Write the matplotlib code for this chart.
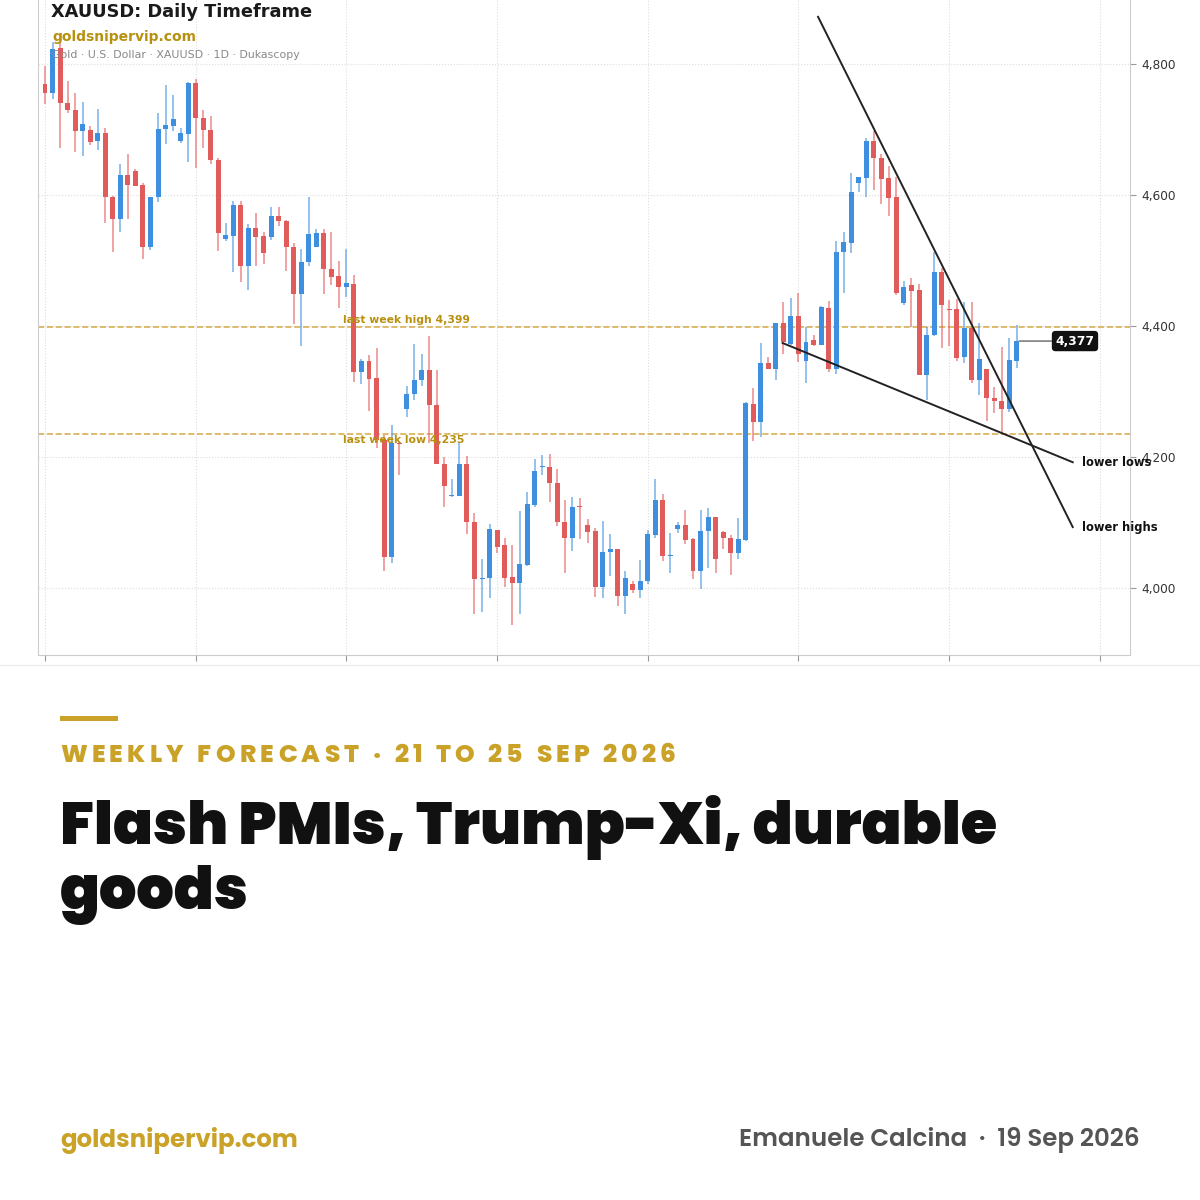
import numpy as np
import matplotlib
matplotlib.use("Agg")
import matplotlib.pyplot as plt
from matplotlib.patches import Rectangle
from matplotlib.lines import Line2D

# daily OHLC (130 sessions)
opens = [4770, 4756, 4825, 4740, 4730, 4697, 4699, 4682, 4694, 4597,
         4563, 4630, 4636, 4615, 4521, 4597, 4700, 4706, 4683, 4693,
         4771, 4718, 4699, 4653, 4533, 4538, 4584, 4491, 4549, 4537,
         4536, 4568, 4561, 4521, 4449, 4497, 4521, 4542, 4487, 4476,
         4459, 4464, 4329, 4347, 4320, 4226, 4048, 4222, 4274, 4296,
         4317, 4333, 4279, 4190, 4140, 4141, 4190, 4100, 4014, 4015,
         4089, 4065, 4017, 4007, 4035, 4127, 4184, 4185, 4160, 4100,
         4077, 4124, 4096, 4087, 4002, 4055, 4060, 3988, 4006, 3997,
         4011, 4081, 4135, 4049, 4090, 4096, 4075, 4026, 4087, 4109,
         4085, 4077, 4054, 4073, 4281, 4253, 4344, 4334, 4405, 4373,
         4416, 4346, 4378, 4371, 4428, 4334, 4513, 4527, 4619, 4626,
         4683, 4657, 4626, 4597, 4435, 4462, 4455, 4325, 4386, 4483,
         4426, 4426, 4352, 4397, 4317, 4335, 4290, 4286, 4273, 4347]
highs = [4797, 4834, 4832, 4774, 4756, 4742, 4705, 4732, 4702, 4598,
         4648, 4663, 4639, 4619, 4597, 4725, 4768, 4752, 4702, 4773,
         4777, 4730, 4720, 4656, 4557, 4591, 4591, 4555, 4573, 4544,
         4582, 4582, 4562, 4527, 4518, 4597, 4548, 4548, 4543, 4499,
         4517, 4478, 4349, 4355, 4366, 4234, 4249, 4223, 4309, 4372,
         4357, 4384, 4333, 4200, 4166, 4223, 4201, 4114, 4045, 4097,
         4089, 4077, 4066, 4117, 4146, 4197, 4203, 4205, 4182, 4134,
         4139, 4137, 4105, 4092, 4102, 4082, 4060, 4026, 4010, 4043,
         4089, 4167, 4143, 4084, 4100, 4119, 4076, 4119, 4122, 4109,
         4087, 4081, 4107, 4284, 4306, 4374, 4353, 4404, 4436, 4442,
         4451, 4398, 4386, 4431, 4438, 4529, 4543, 4634, 4627, 4687,
         4697, 4662, 4644, 4627, 4468, 4473, 4464, 4399, 4513, 4488,
         4440, 4441, 4437, 4437, 4405, 4335, 4307, 4368, 4382, 4402]
lows = [4739, 4746, 4672, 4725, 4665, 4660, 4676, 4669, 4557, 4513,
        4543, 4563, 4613, 4503, 4516, 4590, 4678, 4697, 4680, 4651,
        4641, 4671, 4647, 4515, 4529, 4482, 4467, 4455, 4491, 4494,
        4531, 4553, 4484, 4403, 4370, 4491, 4520, 4449, 4463, 4427,
        4444, 4315, 4311, 4270, 4213, 4026, 4038, 4172, 4261, 4287,
        4308, 4221, 4189, 4123, 4139, 4140, 4082, 3961, 3964, 3984,
        4053, 4002, 3944, 3961, 4033, 4124, 4173, 4131, 4095, 4023,
        4057, 4075, 4069, 3987, 3985, 4019, 3972, 3961, 3992, 3984,
        4006, 4077, 4041, 4023, 4084, 4067, 4013, 3998, 4031, 4023,
        4060, 4020, 4045, 4071, 4225, 4231, 4334, 4317, 4358, 4371,
        4345, 4313, 4370, 4371, 4329, 4326, 4451, 4512, 4605, 4597,
        4608, 4586, 4568, 4447, 4432, 4399, 4325, 4287, 4384, 4367,
        4370, 4347, 4343, 4313, 4295, 4255, 4267, 4237, 4269, 4336]
closes = [4756, 4823, 4740, 4729, 4697, 4709, 4681, 4694, 4597, 4563,
          4630, 4615, 4614, 4521, 4597, 4701, 4707, 4716, 4694, 4771,
          4718, 4699, 4653, 4542, 4539, 4584, 4491, 4549, 4536, 4511,
          4568, 4561, 4521, 4449, 4497, 4540, 4542, 4487, 4475, 4459,
          4465, 4329, 4347, 4319, 4226, 4048, 4222, 4220, 4296, 4318,
          4333, 4279, 4189, 4156, 4142, 4190, 4100, 4014, 4016, 4090,
          4063, 4016, 4007, 4037, 4128, 4178, 4185, 4160, 4100, 4077,
          4124, 4123, 4085, 4002, 4055, 4060, 3988, 4016, 3997, 4011,
          4082, 4135, 4049, 4050, 4096, 4074, 4026, 4087, 4109, 4044,
          4076, 4054, 4075, 4282, 4253, 4343, 4334, 4404, 4376, 4416,
          4358, 4376, 4371, 4429, 4334, 4513, 4528, 4605, 4627, 4683,
          4656, 4624, 4595, 4451, 4460, 4453, 4325, 4387, 4483, 4432,
          4424, 4351, 4397, 4317, 4350, 4290, 4285, 4273, 4348, 4377]

y_ticks = [4000, 4200, 4400, 4600, 4800]
last_week_high = 4399
last_week_low = 4235
# trend lines (bar index, price)
lower_highs_x = [102.6, 136.4]
lower_highs_y = [4872, 4093]
lower_lows_x = [97.9, 136.4]
lower_lows_y = [4374, 4192]

RED = "#e25b5b"
BLUE = "#3f8fe0"
GOLD = "#c9a227"
GOLD_TXT = "#b8900f"

fig = plt.figure(figsize=(12, 12), dpi=100)
fig.patch.set_facecolor("white")

# ---------------- chart ----------------
ax = fig.add_axes([38 / 1200, 1 - 655 / 1200, 1092 / 1200, 655 / 1200])
n = len(opens)
idx = np.arange(n)
o = np.array(opens, dtype=float)
h = np.array(highs, dtype=float)
l = np.array(lows, dtype=float)
c = np.array(closes, dtype=float)
up = c >= o
cols = np.where(up, BLUE, RED)

ax.vlines(idx, l, h, colors=cols, linewidth=1.3, alpha=0.6, zorder=3)
body_bot = np.minimum(o, c)
body_h = np.maximum(np.abs(c - o), 1.8)
ax.bar(idx, body_h, bottom=body_bot, width=0.66, color=cols, zorder=4,
       linewidth=0)

ax.set_xlim(-0.93, 144)
ax.set_ylim(3897.7, 4897.7)

ax.axhline(last_week_high, color="#d4a843", ls="--", lw=1.2, alpha=0.9, zorder=2)
ax.axhline(last_week_low, color="#d4a843", ls="--", lw=1.2, alpha=0.9, zorder=2)
ax.text(39.6, last_week_high + 2, "last week high 4,399", color=GOLD_TXT,
        fontsize=7.8, fontweight="bold", va="bottom", ha="left", zorder=6)
ax.text(39.6, last_week_low - 2, "last week low 4,235", color=GOLD_TXT,
        fontsize=7.8, fontweight="bold", va="top", ha="left", zorder=6)

ax.plot(lower_highs_x, lower_highs_y, color="#222222", lw=1.4, zorder=5)
ax.plot(lower_lows_x, lower_lows_y, color="#222222", lw=1.4, zorder=5)
ax.text(137.6, lower_lows_y[1], "lower lows", fontsize=8.3, fontweight="bold",
        color="#111111", va="center", ha="left", zorder=6)
ax.text(137.6, lower_highs_y[1], "lower highs", fontsize=8.3, fontweight="bold",
        color="#111111", va="center", ha="left", zorder=6)

ax.annotate("4,377", xy=(n - 1 + 0.3, closes[-1]), xytext=(136.7, closes[-1]),
            fontsize=8.8, fontweight="bold", color="white", ha="center", va="center",
            bbox=dict(boxstyle="round,pad=0.3", fc="#111111", ec="none"),
            arrowprops=dict(arrowstyle="-", color="#666666", lw=1.0,
                            shrinkA=0, shrinkB=0), zorder=7)

ax.set_yticks(y_ticks)
ax.set_yticklabels([f"{v:,}" for v in y_ticks])
ax.set_xticks(range(0, 141, 20))
ax.set_xticklabels([])
ax.yaxis.tick_right()
ax.tick_params(axis="y", labelsize=8.7, labelcolor="#333333", color="#999999",
               length=4, pad=4)
ax.tick_params(axis="x", color="#999999", length=4)
ax.grid(True, ls=":", color="#dddddd", lw=0.8, zorder=0)
for side in ["left", "right", "bottom"]:
    ax.spines[side].set_color("#cccccc")
ax.spines["top"].set_visible(False)

ax.text(13 / 1092, 1 - 12 / 655, "XAUUSD: Daily Timeframe", transform=ax.transAxes,
        fontsize=12.8, fontweight="bold", color="#1a1a1a", va="center", ha="left",
        zorder=8)
ax.text(14 / 1092, 1 - 37 / 655, "goldsnipervip.com", transform=ax.transAxes,
        fontsize=10, fontweight="bold", color="#b8900f", va="center", ha="left",
        zorder=8)
ax.text(14 / 1092, 1 - 55 / 655, "Gold · U.S. Dollar · XAUUSD · 1D · Dukascopy",
        transform=ax.transAxes, fontsize=7.9, color="#888888", va="center",
        ha="left", zorder=8)

fig.add_artist(Line2D([0, 1], [1 - 665 / 1200] * 2, color="#eeeeee", lw=1))

# ---------------- card text ----------------
def fy(px):
    return 1 - px / 1200


fig.add_artist(Rectangle((60 / 1200, fy(721)), 58 / 1200, 5 / 1200,
                         color=GOLD, lw=0))

renderer = fig.canvas.get_renderer()
head_font = ["Poppins", "DejaVu Sans"]


def spaced(x0, y, s, target_w, **kw):
    ref = fig.text(0, 0, "xx", transform=None, **kw)
    base = ref.get_window_extent(renderer).width
    ref.remove()
    widths = []
    for ch in s:
        t = fig.text(0, 0, "x" + ch + "x", transform=None, **kw)
        widths.append(t.get_window_extent(renderer).width - base)
        t.remove()
    sp = (target_w - sum(widths)) / (len(s) - 1)
    x = x0
    for ch, w in zip(s, widths):
        fig.text(x, y, ch, transform=None, va="center", ha="left", **kw)
        x += w + sp


def fitted(x, y, s, target_w, size, ha="left", **kw):
    t = fig.text(x / 1200, fy(y), s, fontsize=size, va="center", ha=ha, **kw)
    w = t.get_window_extent(renderer).width
    t.set_fontsize(size * target_w / w)
    return t


spaced(60, 1200 - 757, "WEEKLY FORECAST · 21 TO 25 SEP 2026", 616,
       fontsize=18, fontweight=800, color=GOLD, family=head_font)

line1 = fitted(60, 827, "Flash PMIs, Trump-Xi, durable", 937, 45,
               fontweight=900, color="#111111", family=head_font)
fig.text(60 / 1200, fy(895), "goods", fontsize=line1.get_fontsize(),
         fontweight=900, color="#111111", family=head_font,
         va="center", ha="left")

fitted(60, 1140, "goldsnipervip.com", 238, 17, fontweight=700, color=GOLD,
       family=head_font)
fitted(1140, 1140, "Emanuele Calcina  ·  19 Sep 2026", 399, 17, ha="right",
       fontweight=600, color="#555555", family=head_font)

fig.savefig("out.png", dpi=100, facecolor="white")
